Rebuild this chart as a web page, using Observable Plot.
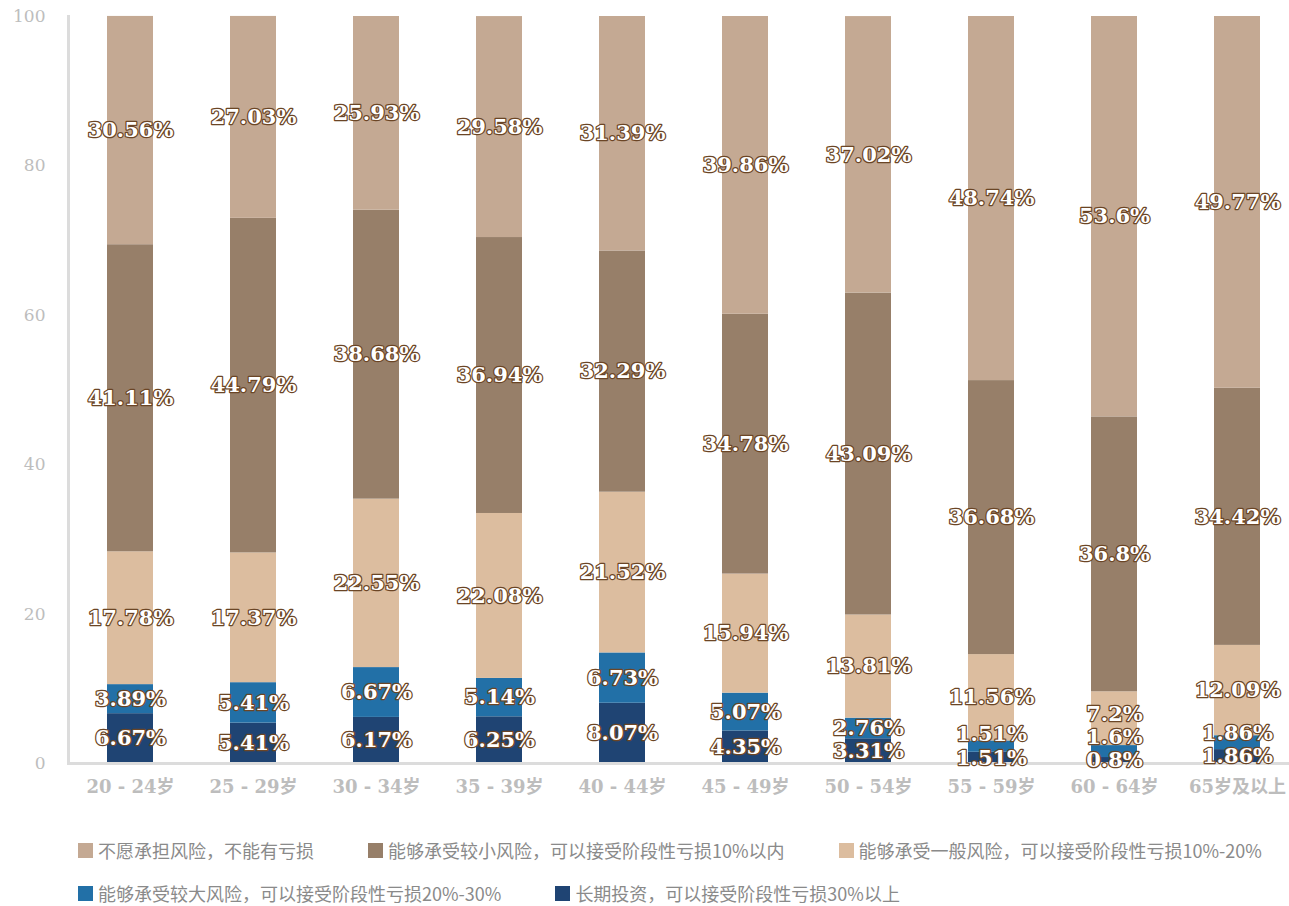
<!DOCTYPE html>
<html>
<head>
<meta charset="utf-8">
<script src="https://cdn.jsdelivr.net/npm/d3@7"></script>
<script src="https://cdn.jsdelivr.net/npm/@observablehq/plot@0.6"></script>
<style>
  html, body { margin: 0; padding: 0; background: #fff; overflow: hidden; }
  #chart svg { max-width: none !important; display: block; }
  #legend { display: flex; flex-wrap: wrap; column-gap: 54px; row-gap: 19px; padding: 26px 0 0 78px; width: 1289px; box-sizing: border-box;
    font-family: "Noto Sans CJK SC", "Noto Sans", sans-serif; font-size: 18px; color: #8a8a8a; line-height: 24px; }
  .item { display: flex; align-items: center; white-space: nowrap; }
  .sw { width: 15px; height: 15px; margin-right: 5px; display: inline-block; }
</style>
</head>
<body>
<div id="chart"></div>
<div id="legend"></div>
<script>
const categories = ["20 - 24岁","25 - 29岁","30 - 34岁","35 - 39岁","40 - 44岁","45 - 49岁","50 - 54岁","55 - 59岁","60 - 64岁","65岁及以上"];
// series listed bottom to top
const seriesNames = [
  "长期投资，可以接受阶段性亏损30%以上",
  "能够承受较大风险，可以接受阶段性亏损20%-30%",
  "能够承受一般风险，可以接受阶段性亏损10%-20%",
  "能够承受较小风险，可以接受阶段性亏损10%以内",
  "不愿承担风险，不能有亏损"
];
const seriesColors = ["#1f4473", "#2270a7", "#dcbd9f", "#977f69", "#c4a993"];
const longTerm   = [6.67, 5.41, 6.17, 6.25, 8.07, 4.35, 3.31, 1.51, 0.8, 1.86];
const highRisk   = [3.89, 5.41, 6.67, 5.14, 6.73, 5.07, 2.76, 1.51, 1.6, 1.86];
const midRisk    = [17.78, 17.37, 22.55, 22.08, 21.52, 15.94, 13.81, 11.56, 7.2, 12.09];
const lowRisk    = [41.11, 44.79, 38.68, 36.94, 32.29, 34.78, 43.09, 36.68, 36.8, 34.42];
const noRisk     = [30.56, 27.03, 25.93, 29.58, 31.39, 39.86, 37.02, 48.74, 53.6, 49.77];
const yTicks = [0, 20, 40, 60, 80, 100];

const seriesValues = [longTerm, highRisk, midRisk, lowRisk, noRisk];
const minLabelGap = 3.1; // in value units, keeps stacked labels from colliding
const rows = [];
categories.forEach((c, i) => {
  let acc = 0;
  let prevLab = -Infinity;
  seriesValues.forEach((vals, s) => {
    const v = vals[i];
    const mid = acc + v / 2;
    const lab = Math.max(mid, prevLab + minLabelGap);
    prevLab = lab;
    rows.push({cat: c, series: seriesNames[s], value: v, y1: acc, y2: acc + v, lab});
    acc += v;
  });
});

const chart = Plot.plot({
  width: 1300,
  height: 812,
  marginTop: 16,
  marginBottom: 49,
  marginLeft: 68,
  marginRight: 0,
  style: {background: "#fff", overflow: "visible", maxWidth: "none"},
  x: {domain: categories, paddingInner: 0.626, paddingOuter: 0.313, label: null},
  y: {domain: [0, 100], label: null},
  color: {domain: seriesNames, range: seriesColors},
  marks: [
    Plot.rectY(rows, {x: "cat", y1: "y1", y2: "y2", fill: "series"}),
    Plot.frame({anchor: "left", stroke: "#dcdcdc", strokeWidth: 3}),
    Plot.frame({anchor: "bottom", stroke: "#dcdcdc", strokeWidth: 3}),
    Plot.axisY(yTicks, {tickSize: 0, tickPadding: 23, fontSize: 17, fontFamily: "DejaVu Serif, Noto Sans CJK SC", fill: "#bdbdbd", label: null}),
    Plot.axisX({tickSize: 0, tickPadding: 17, fontSize: 18, fontFamily: "DejaVu Serif, Noto Sans CJK SC", fill: "#bdbdbd", fontWeight: "bold", label: null}),
    Plot.text(rows, {x: "cat", y: "lab", text: d => d.value + "%", fill: "#fff", stroke: "#6b4525", strokeWidth: 2.5,
      fontSize: 21, fontFamily: "DejaVu Serif", fontWeight: "bold"})
  ]
});
document.getElementById("chart").appendChild(chart);

const legendOrder = [4, 3, 2, 1, 0];
const legend = document.getElementById("legend");
legendOrder.forEach(s => {
  const it = document.createElement("div");
  it.className = "item";
  const sw = document.createElement("span");
  sw.className = "sw";
  sw.style.background = seriesColors[s];
  it.appendChild(sw);
  it.appendChild(document.createTextNode(seriesNames[s]));
  legend.appendChild(it);
});
</script>
</body>
</html>
